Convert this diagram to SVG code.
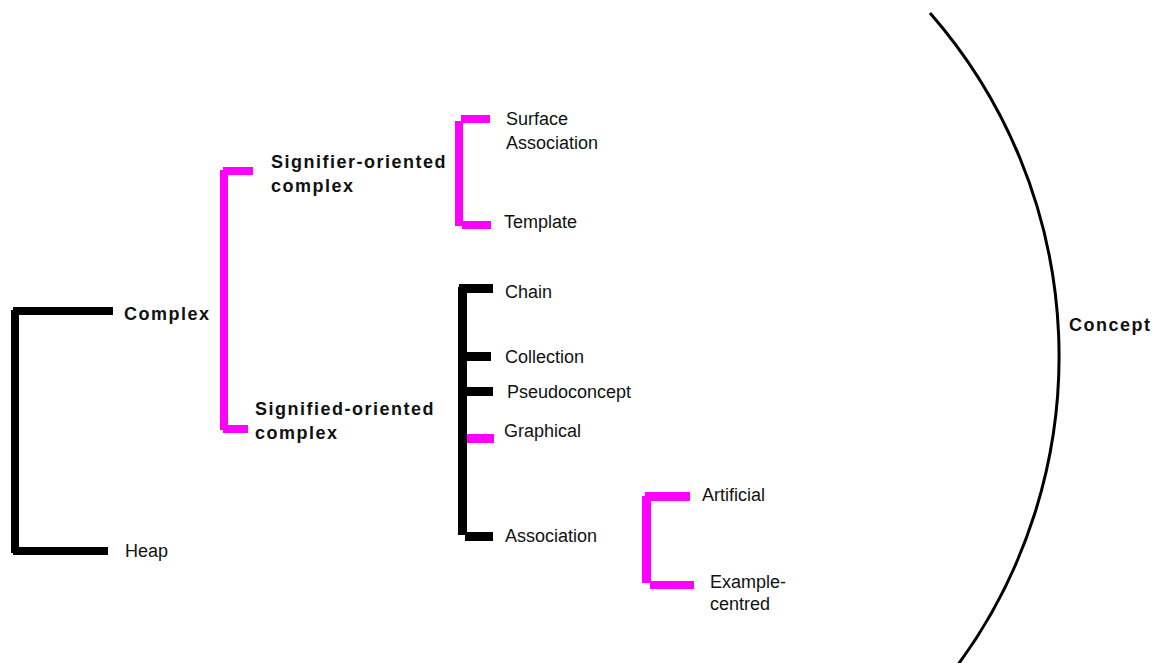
<svg xmlns="http://www.w3.org/2000/svg" width="1156" height="663" viewBox="0 0 1156 663">
  <style>
    .blk { fill: #000000; }
    .mag { fill: #ff00ff; }
    .lbl { font-family: "Liberation Sans", Arial, sans-serif; font-size: 18px; fill: #111111; }
    .hdr { font-family: "Liberation Sans", Arial, sans-serif; font-size: 18px; font-weight: bold; letter-spacing: 1.5px; fill: #111111; }
    .arc { fill: none; stroke: #000000; stroke-width: 3; }
  </style>

  <rect width="1156" height="663" fill="#ffffff"/>

  <!-- bracket connectors -->
  <g id="connectors">
    <!-- Complex / Heap -->
    <rect class="blk" x="11" y="310" width="8" height="243"/>
    <rect class="blk" x="13" y="307" width="100" height="8"/>
    <rect class="blk" x="13" y="547" width="95" height="8"/>
    <!-- Complex branches -->
    <rect class="mag" x="220" y="170" width="8" height="260"/>
    <rect class="mag" x="223" y="167" width="30" height="8"/>
    <rect class="mag" x="223" y="425" width="25" height="8"/>
    <!-- signifier-oriented branches -->
    <rect class="mag" x="455" y="121" width="8" height="105"/>
    <rect class="mag" x="461" y="115" width="29" height="8"/>
    <rect class="mag" x="462" y="221" width="29" height="8"/>
    <!-- signified-oriented branches -->
    <rect class="blk" x="458" y="287" width="9" height="248"/>
    <rect class="blk" x="459" y="284" width="34" height="9"/>
    <rect class="blk" x="465" y="352" width="26" height="9"/>
    <rect class="blk" x="465" y="387" width="28" height="9"/>
    <rect class="mag" x="467" y="434" width="27" height="9"/>
    <rect class="blk" x="465" y="532" width="28" height="9"/>
    <!-- association branches -->
    <rect class="mag" x="642" y="496" width="9" height="87"/>
    <rect class="mag" x="645" y="492" width="45" height="9"/>
    <rect class="mag" x="650" y="581" width="44" height="8"/>
    <!-- concept boundary -->
    <path class="arc" d="M 930 13 A 521 521 0 0 1 957 666"/>
  </g>

  <g id="complex"><text class="hdr" x="124" y="320">Complex</text></g>
  <g id="heap"><text class="lbl" x="125" y="557">Heap</text></g>
  <g id="signifier-oriented">
    <text class="hdr" x="271" y="168">Signifier-oriented</text>
    <text class="hdr" x="271" y="192">complex</text>
  </g>
  <g id="signified-oriented">
    <text class="hdr" x="255" y="415">Signified-oriented</text>
    <text class="hdr" x="255" y="439">complex</text>
  </g>
  <g id="surface-association">
    <text class="lbl" x="506" y="125">Surface</text>
    <text class="lbl" x="506" y="149">Association</text>
  </g>
  <g id="template"><text class="lbl" x="504" y="228">Template</text></g>
  <g id="chain"><text class="lbl" x="505" y="298">Chain</text></g>
  <g id="collection"><text class="lbl" x="505" y="363">Collection</text></g>
  <g id="pseudoconcept"><text class="lbl" x="507" y="398">Pseudoconcept</text></g>
  <g id="graphical"><text class="lbl" x="504" y="437">Graphical</text></g>
  <g id="association"><text class="lbl" x="505" y="542">Association</text></g>
  <g id="artificial"><text class="lbl" x="702" y="501">Artificial</text></g>
  <g id="example-centred">
    <text class="lbl" x="710" y="588">Example-</text>
    <text class="lbl" x="710" y="610">centred</text>
  </g>
  <g id="concept"><text class="hdr" x="1069" y="331">Concept</text></g>
</svg>
